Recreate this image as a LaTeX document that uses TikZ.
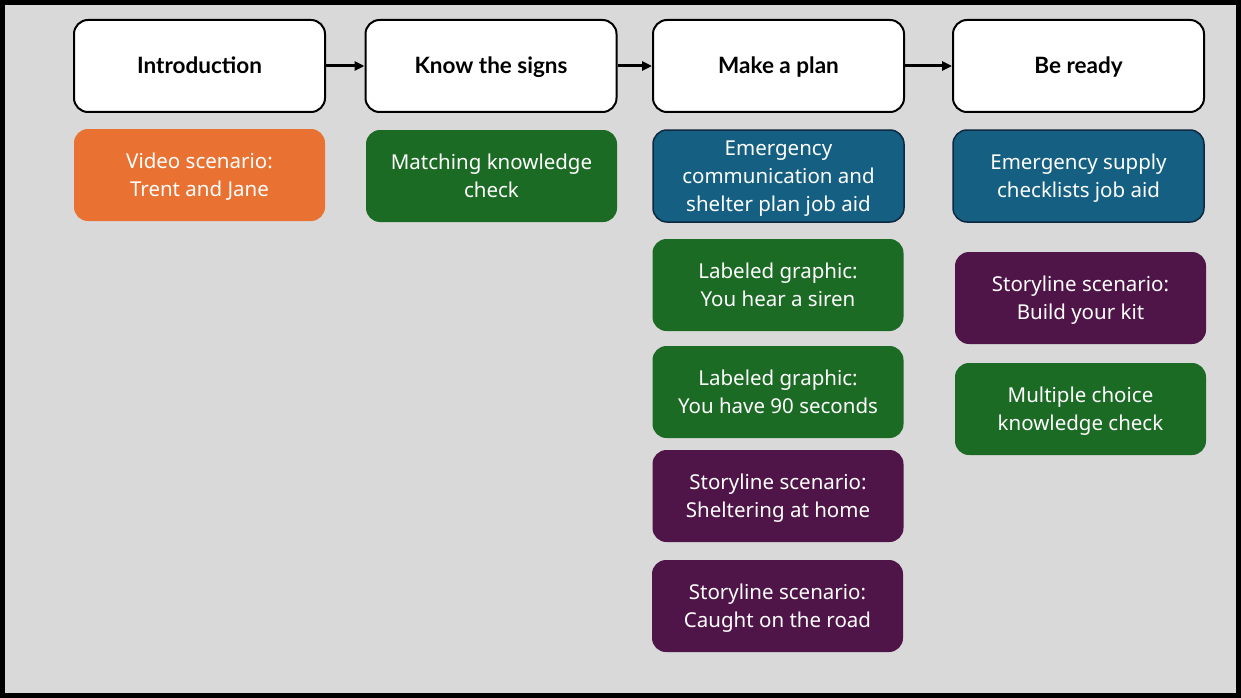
\documentclass[tikz,border=0pt]{standalone}
\usepackage{fontspec}
\setmainfont{Noto Sans}
\newfontfamily\headfont{Lato}
\usetikzlibrary{arrows.meta}
\definecolor{bggray}{HTML}{D9D9D9}
\definecolor{cOrange}{HTML}{E97132}
\definecolor{cGreen}{HTML}{1B6B24}
\definecolor{cBlue}{HTML}{156082}
\definecolor{cBlueEdge}{HTML}{0E2841}
\definecolor{cPurple}{HTML}{501548}
\tikzset{
  box/.style={rounded corners=14pt, minimum width=251pt, minimum height=92pt, inner sep=0pt, align=center,
    font=\fontsize{20.5}{28}\selectfont, text=white, text height=45pt, text depth=2.4pt},
  threeline/.style={text height=73pt, text depth=2.4pt},
  head/.style={box, draw=black, line width=2pt, fill=white, text=black, text height=17.5pt, text depth=2.4pt,
    font=\headfont\fontsize{22.5}{28}\selectfont\bfseries},
  orangebox/.style={box, fill=cOrange},
  greenbox/.style={box, fill=cGreen},
  bluebox/.style={box, fill=cBlue, draw=cBlueEdge, line width=1.5pt},
  purplebox/.style={box, fill=cPurple},
  flow/.style={-{Triangle[length=10pt,width=9pt]}, line width=3pt, black}
}
\begin{document}
\begin{tikzpicture}[x=1pt,y=-1pt]
\useasboundingbox (0,0) rectangle (1241,698);
\fill[black] (0,0) rectangle (1241,698);
\fill[bggray] (5,5) rectangle (1236,693);
% headers
\node[head] (intro) at (199.5,66) {Introduction};
\node[head] (signs) at (491,66) {Know the signs};
\node[head] (plan) at (778.5,66) {Make a plan};
\node[head] (ready) at (1078.5,66) {Be ready};
\draw[flow] (intro) -- (signs);
\draw[flow] (signs) -- (plan);
\draw[flow] (plan) -- (ready);
% column 1
\node[orangebox] (video) at (199.5,175) {Video scenario:\\Trent and Jane};
% column 2
\node[greenbox] (match) at (491.5,176) {Matching knowledge\\check};
% column 3
\node[bluebox, threeline] (comm) at (778.5,176) {Emergency\\communication and\\shelter plan job aid};
\node[greenbox] (siren) at (778,285) {Labeled graphic:\\You hear a siren};
\node[greenbox] (ninety) at (778,392) {Labeled graphic:\\You have 90 seconds};
\node[purplebox] (home) at (778,496) {Storyline scenario:\\Sheltering at home};
\node[purplebox] (road) at (777.5,606) {Storyline scenario:\\Caught on the road};
% column 4
\node[bluebox] (supply) at (1078.5,176) {Emergency supply\\checklists job aid};
\node[purplebox] (kit) at (1080.5,298) {Storyline scenario:\\Build your kit};
\node[greenbox] (mc) at (1080.5,409) {Multiple choice\\knowledge check};
\end{tikzpicture}
\end{document}
